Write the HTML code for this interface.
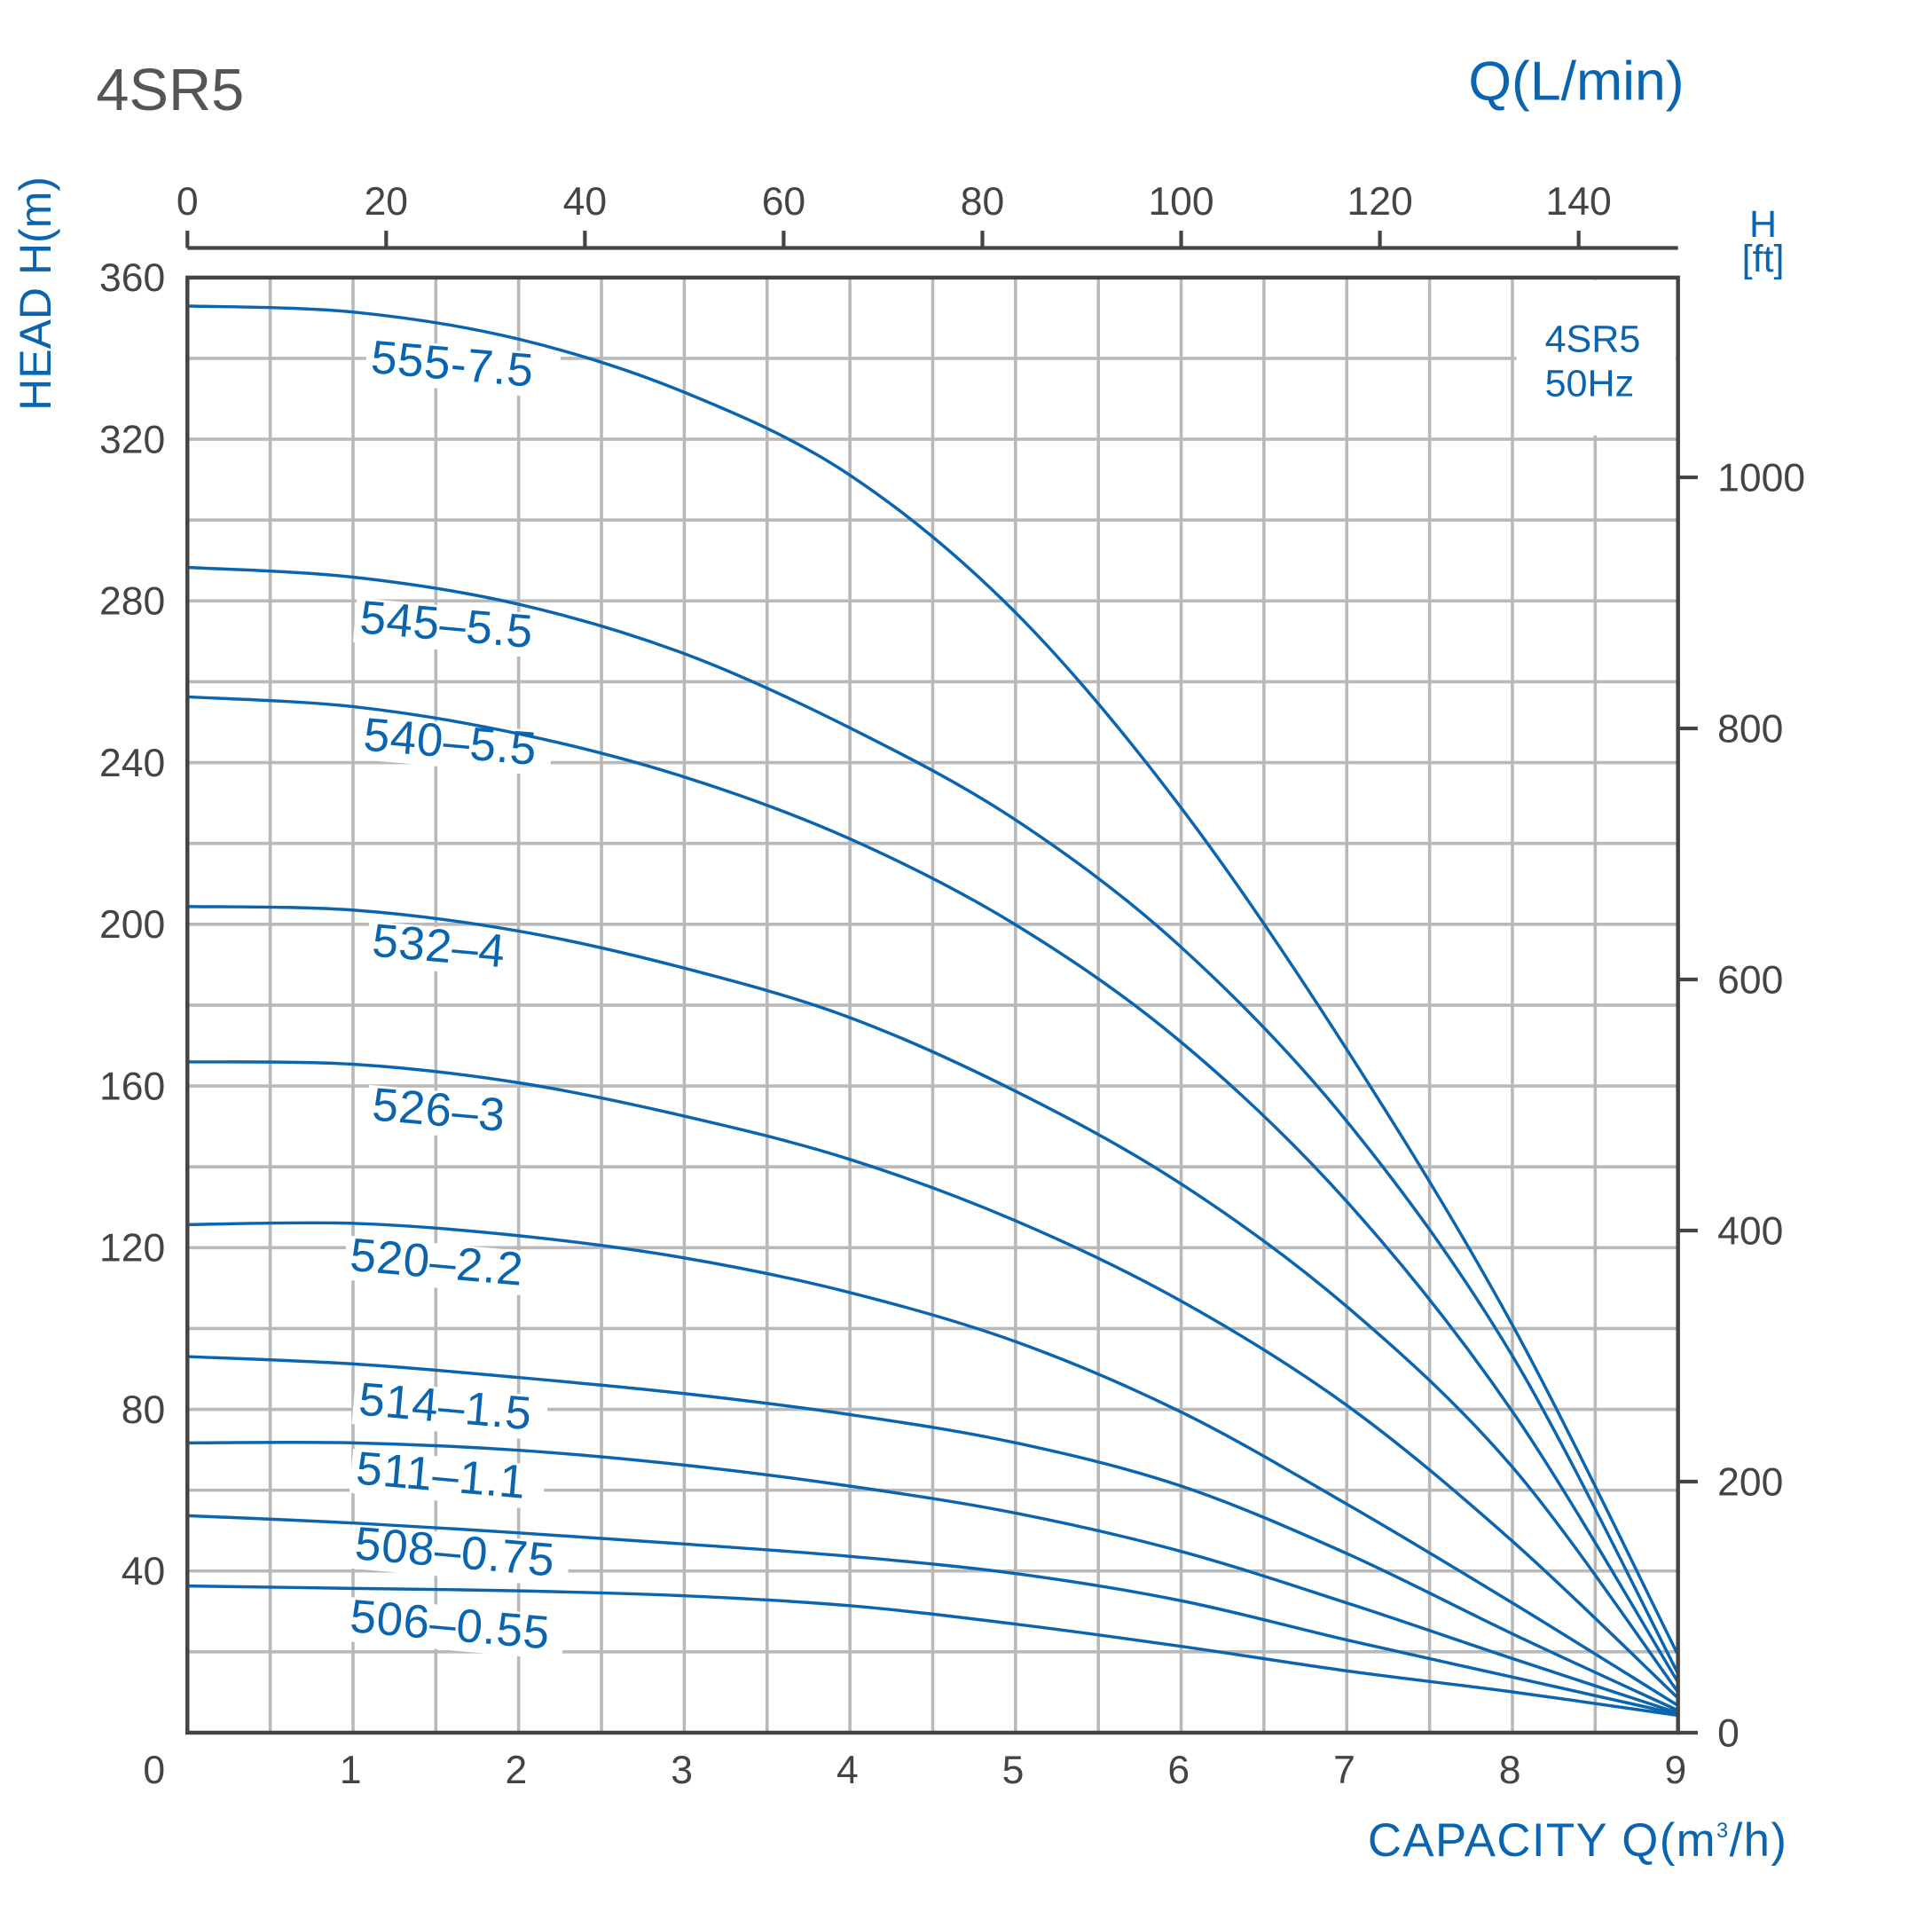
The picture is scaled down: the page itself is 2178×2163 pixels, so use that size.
<!DOCTYPE html>
<html><head><meta charset="utf-8"><style>
html,body{margin:0;padding:0;background:#fff}
svg{display:block}
text{font-family:"Liberation Sans",sans-serif}
.t{fill:#444;font-size:32px}
.b{fill:#0b65ae}
.lab{fill:#0b65ae;font-size:38px;letter-spacing:0.5px}
</style></head><body>
<svg id="s" width="2178" height="2163" viewBox="0 0 1567 1556" xmlns="http://www.w3.org/2000/svg">
<rect x="0" y="0" width="1567" height="1556" fill="#fff"/>
<g id="grid" stroke="#b9b9b9" stroke-width="2.6"></g>
<rect x="1230" y="227" width="129" height="126" fill="#fff"/>
<g id="labbg" fill="#fff"></g>
<g id="curves" fill="none" stroke="#0b65ae" stroke-width="2.5" stroke-linejoin="round"></g>
<g id="labs"></g>
<rect x="152" y="225" width="1209" height="1180" fill="none" stroke="#444" stroke-width="3.2"/>
<line x1="152" y1="201" x2="1361" y2="201" stroke="#444" stroke-width="3"/>
<g id="ticks" stroke="#444" stroke-width="3"></g>
<g id="tl"></g>
<text x="78" y="89" style="fill:#555;font-size:48px">4SR5</text>
<text x="1366" y="81" text-anchor="end" class="b" style="font-size:45px">Q(L/min)</text>
<text transform="translate(41,238) rotate(-90)" text-anchor="middle" class="b" style="font-size:36px">HEAD H(m)</text>
<text x="1450" y="1505" text-anchor="end" class="b" style="font-size:38px;letter-spacing:1px">CAPACITY Q(m<tspan dy="-15" style="font-size:17px">3</tspan><tspan dy="15">/h)</tspan></text>
<text x="1430" y="192" text-anchor="middle" class="b" style="font-size:31px">H</text>
<text x="1430" y="220" text-anchor="middle" class="b" style="font-size:31px">[ft]</text>
<text x="1253" y="285" class="b" style="font-size:31px">4SR5</text>
<text x="1253" y="321" class="b" style="font-size:31px">50Hz</text>
</svg>
<script>
var NS="http://www.w3.org/2000/svg";
function el(p,t,a,txt){var e=document.createElementNS(NS,t);for(var k in a)e.setAttribute(k,a[k]);if(txt!=null)e.textContent=txt;document.getElementById(p).appendChild(e);return e;}
for(var i=1;i<18;i++){var x=152+1209/18*i;el("grid","line",{x1:x,y1:225,x2:x,y2:1405});}
for(var j=1;j<18;j++){var y=225+1180/18*j;el("grid","line",{x1:152,y1:y,x2:1361,y2:y});}
el("tl","text",{x:125,y:1446,"text-anchor":"middle","class":"t"},"0");
for(var i=1;i<=9;i++){el("tl","text",{x:152+134.33*i-2,y:1446,"text-anchor":"middle","class":"t"},""+i);}
for(var k=1;k<=9;k++){var h=40*k;el("tl","text",{x:134,y:1405-h*3.278+11,"text-anchor":"end","class":"t"},""+h);}
for(var k=0;k<=7;k++){var x=152+1209*(20*k)/150;el("ticks","line",{x1:x,y1:201,x2:x,y2:187});el("tl","text",{x:x,y:174,"text-anchor":"middle","class":"t"},""+(20*k));}
for(var k=0;k<=5;k++){var y=1405-203.6*k;el("ticks","line",{x1:1361,y1:y,x2:1377,y2:y});el("tl","text",{x:1393,y:y+11,"class":"t"},""+(200*k));}
var C=[
[[152,248],[287,253],[421,275],[555,318],[689,385],[824,497],[958,655],[1093,852],[1227,1075],[1361,1342]],
[[152,460],[287,468],[421,490],[555,530],[689,590],[824,665],[958,768],[1093,910],[1227,1100],[1361,1357]],
[[152,565],[287,573],[421,595],[555,630],[689,680],[824,750],[958,845],[1093,975],[1227,1145],[1361,1364]],
[[152,735],[287,738],[421,755],[555,785],[689,825],[824,885],[958,960],[1093,1060],[1227,1190],[1361,1372]],
[[152,861],[287,863],[421,878],[555,905],[689,940],[824,990],[958,1055],[1093,1140],[1227,1250],[1361,1377]],
[[152,993],[287,992],[421,1002],[555,1020],[689,1048],[824,1088],[958,1145],[1093,1220],[1227,1300],[1361,1383]],
[[152,1100],[287,1106],[421,1117],[555,1130],[689,1147],[824,1170],[958,1205],[1093,1260],[1227,1325],[1361,1387]],
[[152,1170],[287,1170],[421,1176],[555,1188],[689,1205],[824,1227],[958,1258],[1093,1300],[1227,1345],[1361,1389]],
[[152,1229],[287,1235],[421,1243],[555,1252],[689,1262],[824,1276],[958,1298],[1093,1330],[1227,1360],[1361,1390]],
[[152,1286],[287,1288],[421,1290],[555,1294],[689,1302],[824,1317],[958,1335],[1093,1355],[1227,1372],[1361,1391]]];
C.forEach(function(p){var d="M"+p[0][0]+","+p[0][1];for(var i=0;i<p.length-1;i++){var p0=p[i-1]||p[i],p1=p[i],p2=p[i+1],p3=p[i+2]||p2;
d+=" C"+(p1[0]+(p2[0]-p0[0])/6)+","+(p1[1]+(p2[1]-p0[1])/6)+" "+(p2[0]-(p3[0]-p1[0])/6)+","+(p2[1]-(p3[1]-p1[1])/6)+" "+p2[0]+","+p2[1];}
el("curves","path",{d:d});});
var L=[["555-7.5",300,302],["545–5.5",291,513],["540–5.5",294,608],["532–4",301,775],["526–3",301,908],["520–2.2",283,1030],["514–1.5",290,1147],["511–1.1",288,1203],["508–0.75",287,1264],["506–0.55",283,1323]];
L.forEach(function(l){var tr="translate("+l[1]+","+l[2]+") rotate(5)";
el("labbg","rect",{x:-4,y:-28,width:l[0].length*21+10,height:36,transform:tr});
el("labs","text",{x:0,y:0,"class":"lab",transform:tr},l[0]);});
</script>
</body></html>
